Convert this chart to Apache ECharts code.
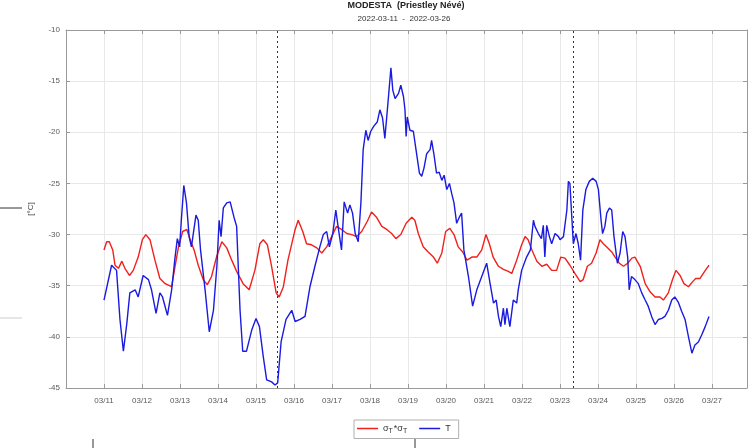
<!DOCTYPE html>
<html>
<head>
<meta charset="utf-8">
<script src="https://cdn.jsdelivr.net/npm/echarts@6/dist/echarts.min.js"></script>
<style>
  html, body { margin: 0; padding: 0; background: #fff; }
  #chart { width: 756px; height: 448px; }
</style>
</head>
<body>
<div id="chart"></div>
<script>
// Time is counted in days from 2022-03-11 00:00.
const dayLabels = ['03/11','03/12','03/13','03/14','03/15','03/16','03/17','03/18','03/19',
                   '03/20','03/21','03/22','03/23','03/24','03/25','03/26','03/27'];
const yTicks = [-45, -40, -35, -30, -25, -20, -15, -10];

// Reference markers (dotted verticals)
const markerDays = [4.55, 12.34];

// Air temperature T [°C]
const tDays = [0,0.2,0.33,0.42,0.51,0.6,0.68,0.82,0.9,1.03,1.17,1.25,1.37,1.47,1.54,1.67,1.78,1.87,1.93,1.99,
  2.04,2.1,2.17,2.24,2.3,2.42,2.48,2.54,2.66,2.77,2.88,2.97,3.03,3.08,3.14,3.23,3.32,3.42,3.49,3.58,
  3.65,3.75,3.89,4.0,4.09,4.19,4.28,4.41,4.5,4.57,4.66,4.79,4.94,5.03,5.16,5.29,5.42,5.55,5.68,5.77,
  5.86,5.93,6.02,6.1,6.17,6.25,6.32,6.41,6.47,6.54,6.61,6.69,6.76,6.82,6.89,6.95,7.02,7.1,7.19,7.26,
  7.33,7.39,7.44,7.5,7.55,7.6,7.66,7.75,7.81,7.88,7.92,7.95,7.98,8.05,8.14,8.21,8.3,8.36,8.42,8.49,
  8.58,8.62,8.68,8.75,8.82,8.89,8.95,9.02,9.09,9.15,9.21,9.28,9.35,9.41,9.47,9.59,9.7,9.81,9.94,10.07,
  10.16,10.25,10.32,10.38,10.44,10.51,10.55,10.6,10.68,10.77,10.86,10.9,10.99,11.12,11.22,11.3,11.34,11.43,11.51,11.56,
  11.6,11.65,11.72,11.78,11.87,11.96,12.0,12.09,12.18,12.22,12.26,12.31,12.35,12.42,12.48,12.54,12.6,12.68,12.77,12.86,
  12.95,13.01,13.08,13.12,13.18,13.23,13.3,13.36,13.42,13.51,13.58,13.65,13.71,13.78,13.82,13.88,13.97,14.06,14.15,14.24,
  14.32,14.41,14.5,14.59,14.68,14.76,14.85,14.94,15.02,15.11,15.2,15.29,15.38,15.47,15.55,15.64,15.73,15.82,15.92];
const tValues = [-36.4,-33.0,-33.5,-38.3,-41.4,-38.7,-35.7,-35.4,-36.1,-34.0,-34.4,-35.4,-37.7,-35.7,-36.1,-37.9,-35.4,-32.2,-30.4,-31.2,
  -28.3,-25.2,-26.9,-30.2,-31.2,-28.1,-28.6,-31.5,-35.4,-39.5,-37.4,-33.1,-28.6,-30.2,-27.4,-26.9,-26.8,-28.3,-29.2,-37.4,
  -41.4,-41.4,-39.3,-38.2,-39.0,-41.9,-44.2,-44.4,-44.7,-44.5,-40.5,-38.3,-37.4,-38.5,-38.3,-38.0,-35.1,-33.1,-31.2,-30.0,
  -29.7,-31.2,-29.9,-27.6,-29.5,-31.5,-26.8,-27.9,-27.1,-27.9,-29.9,-30.7,-26.9,-21.7,-19.8,-20.8,-19.9,-19.4,-19.0,-17.8,
  -18.6,-20.6,-18.5,-15.9,-13.7,-15.9,-16.7,-16.2,-15.4,-16.5,-17.8,-20.4,-18.5,-19.8,-19.9,-21.7,-24.0,-24.3,-23.5,-22.1,
  -21.7,-20.8,-22.1,-24.0,-23.9,-24.7,-24.2,-25.6,-25.0,-26.0,-26.9,-28.9,-28.3,-27.9,-31.5,-34.1,-37.0,-35.4,-34.1,-32.8,
  -34.8,-36.7,-36.4,-38.0,-39.0,-37.2,-38.8,-37.2,-39.0,-36.4,-36.7,-35.4,-33.5,-32.2,-31.5,-28.6,-29.2,-29.9,-30.4,-29.1,
  -32.2,-29.1,-30.2,-30.9,-29.9,-30.2,-30.5,-30.2,-27.6,-24.8,-25.0,-28.3,-30.9,-29.9,-30.9,-32.5,-27.6,-25.6,-24.8,-24.5,
  -24.8,-25.6,-28.6,-29.9,-29.2,-27.9,-27.4,-27.6,-30.2,-32.8,-31.8,-29.7,-30.2,-32.2,-35.4,-34.1,-34.4,-34.8,-35.7,-36.4,
  -37.0,-38.0,-38.8,-38.3,-38.2,-38.0,-37.4,-36.4,-36.1,-36.6,-37.5,-38.3,-40.0,-41.6,-40.8,-40.5,-39.8,-39.0,-38.0];

// Model estimate sigma_T*sigma_T [°C]
const sDays = [0,0.07,0.14,0.23,0.29,0.38,0.47,0.55,0.67,0.77,0.9,1.01,1.1,1.21,1.34,1.47,1.61,1.78,1.87,1.96,
  2.07,2.18,2.26,2.37,2.48,2.61,2.72,2.83,2.96,3.1,3.23,3.36,3.49,3.66,3.82,3.97,4.1,4.19,4.3,4.41,
  4.53,4.61,4.72,4.84,5.03,5.11,5.23,5.33,5.46,5.6,5.73,5.86,5.99,6.12,6.25,6.39,6.52,6.65,6.78,6.93,
  7.04,7.17,7.31,7.44,7.57,7.68,7.81,7.95,8.1,8.18,8.27,8.4,8.53,8.67,8.77,8.89,8.99,9.1,9.21,9.32,
  9.44,9.55,9.68,9.81,9.94,10.05,10.14,10.24,10.38,10.51,10.64,10.73,10.86,10.99,11.08,11.16,11.26,11.39,11.52,11.65,
  11.78,11.91,12.02,12.13,12.26,12.39,12.53,12.61,12.72,12.83,12.95,13.05,13.14,13.25,13.36,13.45,13.56,13.67,13.78,13.89,
  13.97,14.11,14.24,14.37,14.5,14.63,14.72,14.85,14.96,15.05,15.16,15.26,15.38,15.49,15.57,15.68,15.77,15.86,15.92];
const sValues = [-31.5,-30.7,-30.7,-31.5,-33.0,-33.3,-32.6,-33.3,-34.0,-33.5,-32.2,-30.5,-30.0,-30.5,-32.5,-34.3,-34.8,-35.1,-33.1,-31.2,
  -29.7,-29.5,-30.4,-31.5,-33.0,-34.4,-34.9,-34.1,-32.2,-30.7,-31.3,-32.5,-33.6,-34.8,-35.4,-33.5,-30.9,-30.5,-31.0,-33.1,
  -35.7,-36.1,-35.1,-32.5,-29.5,-28.6,-29.7,-30.9,-31.0,-31.3,-31.8,-31.2,-30.2,-29.2,-29.5,-29.9,-30.0,-30.2,-29.7,-28.7,
  -27.8,-28.3,-29.2,-29.5,-29.9,-30.4,-30.0,-28.9,-28.3,-28.6,-29.9,-31.2,-31.7,-32.2,-32.8,-31.8,-29.7,-29.4,-30.0,-31.2,
  -31.7,-32.5,-32.2,-32.2,-31.5,-30.0,-30.9,-32.2,-33.1,-33.4,-33.6,-33.8,-32.5,-31.0,-30.2,-30.5,-31.5,-32.6,-33.1,-32.9,
  -33.5,-33.5,-32.2,-32.3,-33.0,-33.8,-34.6,-34.4,-33.1,-32.8,-31.8,-30.5,-30.9,-31.3,-31.7,-32.2,-32.8,-33.1,-32.8,-32.3,
  -32.2,-33.1,-34.8,-35.6,-36.1,-36.1,-36.4,-35.7,-34.4,-33.5,-34.0,-34.8,-35.1,-34.6,-34.3,-34.3,-33.8,-33.3,-33.0];

const zip = (xs, ys) => xs.map((x, i) => [x, ys[i]]);

const X_MIN = -1, X_MAX = 16.92;
const frame = '#9a9a9a';
const labelColor = '#5a5a5a';
const font = 'Liberation Sans, Arial, sans-serif';

const chart = echarts.init(document.getElementById('chart'), null, { renderer: 'canvas' });

const baseX = {
  type: 'value', min: X_MIN, max: X_MAX, interval: 1,
  axisLine: { show: true, onZero: false, lineStyle: { color: frame, width: 1 } },
  axisTick: { show: true, inside: true, length: 4, lineStyle: { color: frame } }
};
const baseY = {
  type: 'value', min: -45, max: -10, interval: 5,
  axisLine: { show: true, onZero: false, lineStyle: { color: frame, width: 1 } },
  axisTick: { show: true, inside: true, length: 4, lineStyle: { color: frame } }
};

chart.setOption({
  animation: false,
  backgroundColor: '#ffffff',
  title: [
    { text: 'MODESTA  (Priestley Névé)', left: 406, top: 1, textAlign: 'center', padding: 0,
      textStyle: { fontFamily: font, fontSize: 9, fontWeight: 'bold', color: '#222' } },
    { text: '2022-03-11  -  2022-03-26', left: 404, top: 15, textAlign: 'center', padding: 0,
      textStyle: { fontFamily: font, fontSize: 8, fontWeight: 'normal', color: '#333' } }
  ],
  grid: { left: 66, right: 9, top: 30, bottom: 60, containLabel: false },
  legend: {
    left: 354, top: 420,
    orient: 'horizontal',
    icon: 'rect',
    itemWidth: 21, itemHeight: 1.5, itemGap: 12,
    padding: [4, 8, 4, 3],
    borderColor: '#b0b0b0', borderWidth: 1, backgroundColor: '#fff',
    data: ['sT', 'T'],
    formatter: name => name === 'sT' ? 'σ{s|T}*σ{s|T}' : 'T',
    textStyle: {
      fontFamily: font, fontSize: 9, color: '#333',
      rich: { s: { fontSize: 7, verticalAlign: 'bottom', padding: [5, 1, 0, 0], fontFamily: font, color: '#333' } }
    }
  },
  xAxis: [
    Object.assign({}, baseX, {
      position: 'bottom',
      axisLabel: {
        show: true, color: labelColor, fontFamily: font, fontSize: 8, margin: 9,
        formatter: v => {
          const i = Math.round(v);
          return (Math.abs(v - i) < 1e-6 && i >= 0 && i < dayLabels.length) ? dayLabels[i] : '';
        }
      },
      splitLine: { show: true, lineStyle: { color: '#e8e8e8', width: 1 } }
    }),
    Object.assign({}, baseX, {
      position: 'top',
      axisLabel: { show: false },
      splitLine: { show: false }
    })
  ],
  yAxis: [
    Object.assign({}, baseY, {
      position: 'left',
      name: '[°C]', nameLocation: 'middle', nameGap: 31, nameRotate: 90,
      nameTextStyle: { fontFamily: font, fontSize: 8, color: '#444' },
      axisLabel: { show: true, color: labelColor, fontFamily: font, fontSize: 8, margin: 6 },
      splitLine: { show: true, lineStyle: { color: '#e8e8e8', width: 1 } }
    }),
    Object.assign({}, baseY, {
      position: 'right',
      axisLabel: { show: false },
      splitLine: { show: false }
    })
  ],
  series: [
    {
      name: 'sT', type: 'line', xAxisIndex: 0, yAxisIndex: 0,
      data: zip(sDays, sValues),
      showSymbol: false, symbol: 'none',
      lineStyle: { color: '#f0201c', width: 1.4 },
      itemStyle: { color: '#f0201c' },
      z: 3
    },
    {
      name: 'T', type: 'line', xAxisIndex: 0, yAxisIndex: 0,
      data: zip(tDays, tValues),
      showSymbol: false, symbol: 'none',
      lineStyle: { color: '#1a1ae0', width: 1.4 },
      itemStyle: { color: '#1a1ae0' },
      z: 4,
      markLine: {
        silent: true, symbol: 'none', label: { show: false },
        lineStyle: { color: '#333', type: [2, 3], width: 1 },
        data: markerDays.map(d => ({ xAxis: d }))
      }
    }
  ],
  graphic: [
    // fragments of neighbouring panels at the figure edges
    { type: 'line', shape: { x1: 0, y1: 208, x2: 22, y2: 208 }, style: { stroke: '#333', lineWidth: 1 } },
    { type: 'line', shape: { x1: 0, y1: 318, x2: 22, y2: 318 }, style: { stroke: '#ccc', lineWidth: 1 } },
    { type: 'line', shape: { x1: 93, y1: 439, x2: 93, y2: 448 }, style: { stroke: '#333', lineWidth: 1 } },
    { type: 'line', shape: { x1: 415, y1: 439, x2: 415, y2: 448 }, style: { stroke: '#333', lineWidth: 1 } }
  ]
});
</script>
</body>
</html>
